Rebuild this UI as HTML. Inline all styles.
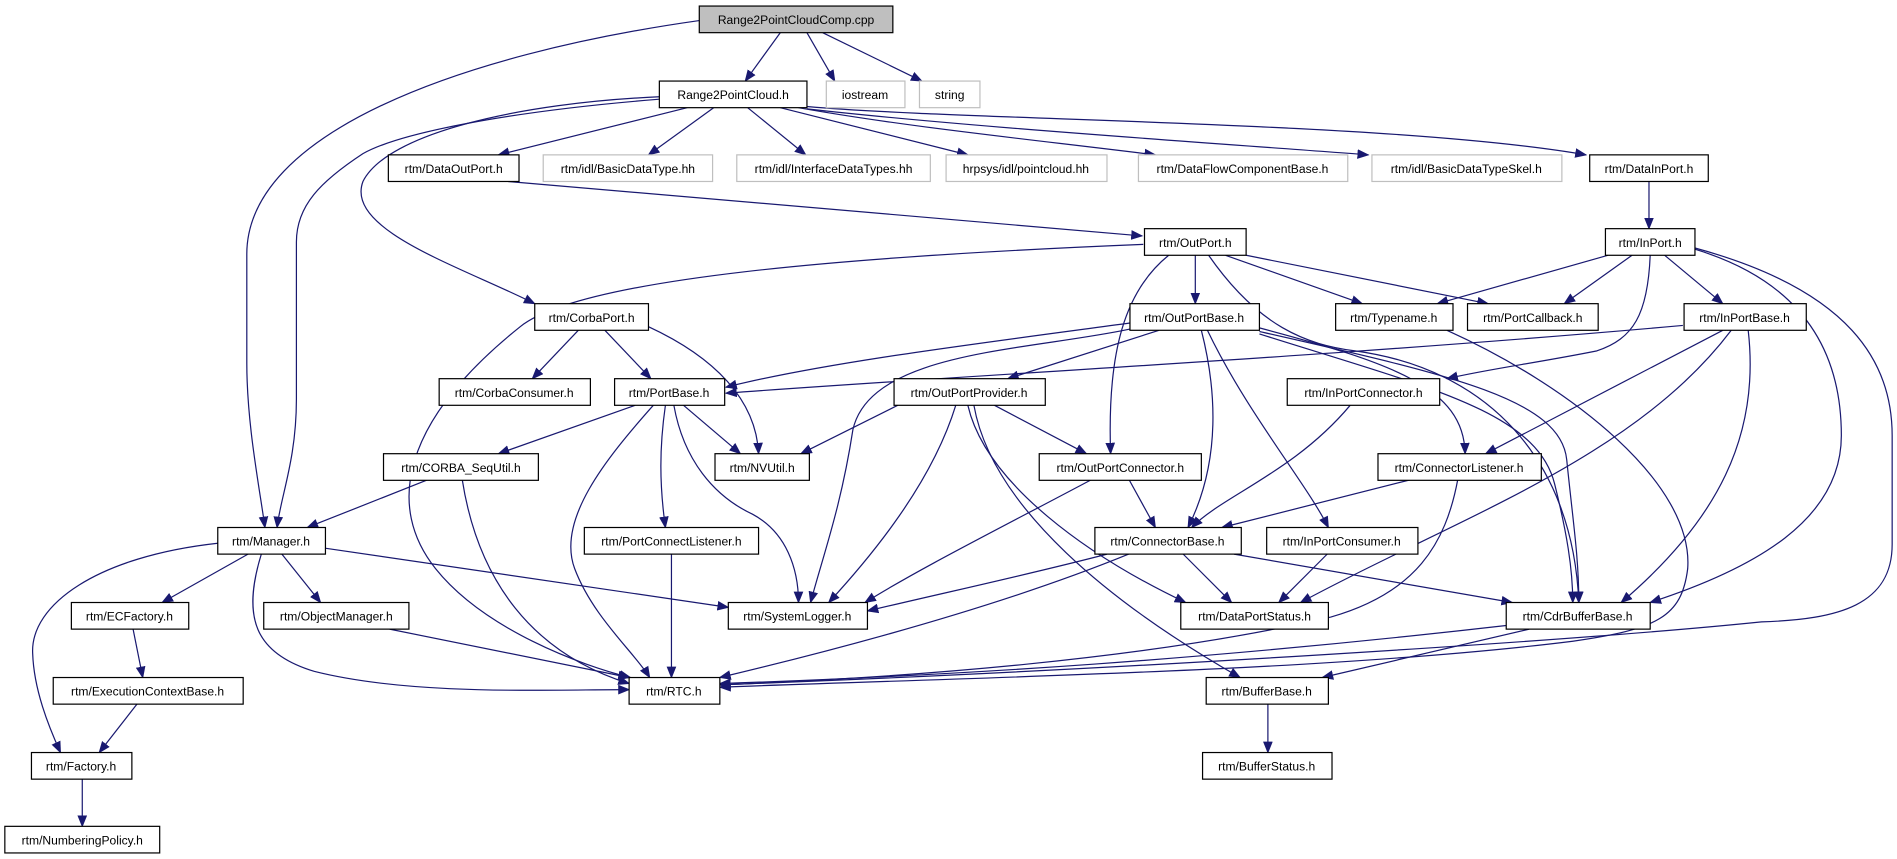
<!DOCTYPE html>
<html><head><meta charset="utf-8"><style>
html,body{margin:0;padding:0;background:#fff;}
svg{display:block;}
text{font-family:"Liberation Sans",Arial,sans-serif;font-size:10px;text-anchor:middle;}
</style></head><body>
<svg width="1897" height="859" viewBox="0 0 1568 710" preserveAspectRatio="none" xmlns="http://www.w3.org/2000/svg">
<defs>
<marker id="a" markerUnits="userSpaceOnUse" markerWidth="10" markerHeight="8" refX="9" refY="4" orient="auto">
<path d="M0,0 L10,4 L0,8 z" fill="#191970"/>
</marker>
</defs>
<g fill="none" stroke="#191970" stroke-width="1" marker-end="url(#a)">
<path d="M645,27 L616,67"/>
<path d="M667,27 L690,67"/>
<path d="M680,27 L762,67"/>
<path d="M578,17 C380,45 204,110 204,210 L204,300 C204,350 214,400 219,436"/>
<path d="M545,82 C420,92 330,110 300,127 C265,150 245,170 245,200 L245,330 C245,380 232,410 229,436"/>
<path d="M545,80 C430,85 320,110 300,150 C285,190 380,220 442,251"/>
<path d="M568,89 L412,128"/>
<path d="M590,89 L536,128"/>
<path d="M618,89 L666,128"/>
<path d="M645,89 L800,128"/>
<path d="M660,89 C750,105 850,115 955,128"/>
<path d="M667,90 C800,105 1000,118 1131,128"/>
<path d="M667,88 C800,100 1150,100 1311,128"/>
<path d="M420,150 L944,195"/>
<path d="M1363,150 L1363,189"/>
<path d="M988,211 L988,251"/>
<path d="M1013,211 L1126,251"/>
<path d="M1030,211 L1230,251"/>
<path d="M966,211 C930,240 915,290 918,375"/>
<path d="M999,211 C1040,270 1080,285 1120,290 C1230,305 1300,380 1305,498"/>
<path d="M945,202 C700,212 480,230 430,270 C330,350 320,420 360,470 C400,520 480,550 521,560"/>
<path d="M1329,211 L1188,251"/>
<path d="M1349,211 L1293,251"/>
<path d="M1376,211 L1424,251"/>
<path d="M1364,211 C1362,260 1350,280 1320,290 C1270,300 1230,305 1196,313"/>
<path d="M1401,206 C1480,230 1522,280 1522,360 C1522,430 1450,470 1364,498"/>
<path d="M1401,205 C1530,240 1564,300 1564,360 L1564,450 C1564,500 1520,512 1456,514 C1300,530 900,555 595,566"/>
<path d="M478,273 L440,313"/>
<path d="M500,273 L538,313"/>
<path d="M536,270 C590,295 625,330 627,375"/>
<path d="M934,267 C800,285 680,300 600,320"/>
<path d="M1391,269 C1100,295 800,310 600,325"/>
<path d="M934,272 C850,290 720,290 705,355 C695,420 680,460 670,498"/>
<path d="M958,273 L833,313"/>
<path d="M993,273 C1005,320 1010,380 982,436"/>
<path d="M998,273 C1030,340 1080,400 1098,436"/>
<path d="M1041,271 C1150,300 1210,320 1211,375"/>
<path d="M1041,274 C1200,310 1290,330 1295,380 C1300,430 1305,460 1305,498"/>
<path d="M1041,276 C1180,320 1270,340 1285,400 C1295,440 1300,470 1300,498"/>
<path d="M1196,273 C1300,320 1400,400 1395,470 C1390,510 1370,520 1300,530 C1100,555 800,560 595,568"/>
<path d="M1424,273 L1228,375"/>
<path d="M1431,273 C1350,380 1200,430 1075,498"/>
<path d="M1445,273 C1455,360 1420,430 1340,498"/>
<path d="M525,335 L412,375"/>
<path d="M565,335 L612,375"/>
<path d="M550,335 C545,370 545,400 550,436"/>
<path d="M557,335 C565,380 590,410 622,425 C650,440 660,470 660,498"/>
<path d="M540,335 C500,380 460,430 475,470 C490,510 525,540 537,560"/>
<path d="M742,335 L662,375"/>
<path d="M822,335 L898,375"/>
<path d="M790,335 C770,400 720,460 685,498"/>
<path d="M800,335 C815,400 900,460 980,498"/>
<path d="M805,335 C820,420 920,500 1025,560"/>
<path d="M1116,335 C1070,390 1010,410 985,436"/>
<path d="M355,396 L254,436"/>
<path d="M382,396 C395,480 440,540 520,565"/>
<path d="M933,396 L955,436"/>
<path d="M903,396 C820,440 760,470 715,498"/>
<path d="M1168,396 L1010,436"/>
<path d="M1205,396 C1195,450 1170,490 1100,510 C950,545 750,560 595,566"/>
<path d="M915,458 C850,475 780,490 717,505"/>
<path d="M933,458 C830,500 700,535 595,560"/>
<path d="M978,458 L1018,498"/>
<path d="M1020,458 L1250,498"/>
<path d="M1097,458 L1057,498"/>
<path d="M205,458 L134,498"/>
<path d="M233,458 L265,498"/>
<path d="M268,453 L602,502"/>
<path d="M216,458 C200,510 210,540 260,555 C340,575 450,570 520,570"/>
<path d="M180,449 C80,460 25,500 27,540 C28,570 40,600 50,622"/>
<path d="M110,520 L118,560"/>
<path d="M114,581 L82,622"/>
<path d="M68,643 L68,683"/>
<path d="M322,520 L520,560"/>
<path d="M555,458 L555,560"/>
<path d="M1245,517 C1000,545 800,558 595,565"/>
<path d="M1264,520 L1093,560"/>
<path d="M1048,581 L1048,622"/>
</g>
<g stroke-width="1">
<rect x="578" y="5" width="160" height="22" fill="#bfbfbf" stroke="#000"/><text x="658" y="20">Range2PointCloudComp.cpp</text>
<rect x="545" y="67" width="122" height="22" fill="#fff" stroke="#000"/><text x="606" y="82">Range2PointCloud.h</text>
<rect x="683" y="67" width="65" height="22" fill="#fff" stroke="#bfbfbf"/><text x="715" y="82">iostream</text>
<rect x="760" y="67" width="50" height="22" fill="#fff" stroke="#bfbfbf"/><text x="785" y="82">string</text>

<rect x="321" y="128" width="108" height="22" fill="#fff" stroke="#000"/><text x="375" y="143">rtm/DataOutPort.h</text>
<rect x="449" y="128" width="140" height="22" fill="#fff" stroke="#bfbfbf"/><text x="519" y="143">rtm/idl/BasicDataType.hh</text>
<rect x="609" y="128" width="160" height="22" fill="#fff" stroke="#bfbfbf"/><text x="689" y="143">rtm/idl/InterfaceDataTypes.hh</text>
<rect x="782" y="128" width="133" height="22" fill="#fff" stroke="#bfbfbf"/><text x="848" y="143">hrpsys/idl/pointcloud.hh</text>
<rect x="941" y="128" width="173" height="22" fill="#fff" stroke="#bfbfbf"/><text x="1027" y="143">rtm/DataFlowComponentBase.h</text>
<rect x="1134" y="128" width="157" height="22" fill="#fff" stroke="#bfbfbf"/><text x="1212" y="143">rtm/idl/BasicDataTypeSkel.h</text>
<rect x="1314" y="128" width="98" height="22" fill="#fff" stroke="#000"/><text x="1363" y="143">rtm/DataInPort.h</text>

<rect x="946" y="189" width="84" height="22" fill="#fff" stroke="#000"/><text x="988" y="204">rtm/OutPort.h</text>
<rect x="1327" y="189" width="74" height="22" fill="#fff" stroke="#000"/><text x="1364" y="204">rtm/InPort.h</text>

<rect x="442" y="251" width="94" height="22" fill="#fff" stroke="#000"/><text x="489" y="266">rtm/CorbaPort.h</text>
<rect x="934" y="251" width="107" height="22" fill="#fff" stroke="#000"/><text x="987" y="266">rtm/OutPortBase.h</text>
<rect x="1104" y="251" width="97" height="22" fill="#fff" stroke="#000"/><text x="1152" y="266">rtm/Typename.h</text>
<rect x="1213" y="251" width="108" height="22" fill="#fff" stroke="#000"/><text x="1267" y="266">rtm/PortCallback.h</text>
<rect x="1392" y="251" width="101" height="22" fill="#fff" stroke="#000"/><text x="1442" y="266">rtm/InPortBase.h</text>

<rect x="363" y="313" width="125" height="22" fill="#fff" stroke="#000"/><text x="425" y="328">rtm/CorbaConsumer.h</text>
<rect x="508" y="313" width="91" height="22" fill="#fff" stroke="#000"/><text x="553" y="328">rtm/PortBase.h</text>
<rect x="739" y="313" width="125" height="22" fill="#fff" stroke="#000"/><text x="801" y="328">rtm/OutPortProvider.h</text>
<rect x="1064" y="313" width="126" height="22" fill="#fff" stroke="#000"/><text x="1127" y="328">rtm/InPortConnector.h</text>

<rect x="317" y="375" width="128" height="22" fill="#fff" stroke="#000"/><text x="381" y="390">rtm/CORBA_SeqUtil.h</text>
<rect x="591" y="375" width="78" height="22" fill="#fff" stroke="#000"/><text x="630" y="390">rtm/NVUtil.h</text>
<rect x="859" y="375" width="134" height="22" fill="#fff" stroke="#000"/><text x="926" y="390">rtm/OutPortConnector.h</text>
<rect x="1139" y="375" width="135" height="22" fill="#fff" stroke="#000"/><text x="1206" y="390">rtm/ConnectorListener.h</text>

<rect x="180" y="436" width="89" height="22" fill="#fff" stroke="#000"/><text x="224" y="451">rtm/Manager.h</text>
<rect x="483" y="436" width="144" height="22" fill="#fff" stroke="#000"/><text x="555" y="451">rtm/PortConnectListener.h</text>
<rect x="905" y="436" width="121" height="22" fill="#fff" stroke="#000"/><text x="965" y="451">rtm/ConnectorBase.h</text>
<rect x="1047" y="436" width="125" height="22" fill="#fff" stroke="#000"/><text x="1109" y="451">rtm/InPortConsumer.h</text>

<rect x="59" y="498" width="97" height="22" fill="#fff" stroke="#000"/><text x="107" y="513">rtm/ECFactory.h</text>
<rect x="218" y="498" width="120" height="22" fill="#fff" stroke="#000"/><text x="278" y="513">rtm/ObjectManager.h</text>
<rect x="602" y="498" width="115" height="22" fill="#fff" stroke="#000"/><text x="659" y="513">rtm/SystemLogger.h</text>
<rect x="976" y="498" width="122" height="22" fill="#fff" stroke="#000"/><text x="1037" y="513">rtm/DataPortStatus.h</text>
<rect x="1245" y="498" width="119" height="22" fill="#fff" stroke="#000"/><text x="1304" y="513">rtm/CdrBufferBase.h</text>

<rect x="44" y="560" width="157" height="22" fill="#fff" stroke="#000"/><text x="122" y="575">rtm/ExecutionContextBase.h</text>
<rect x="520" y="560" width="75" height="22" fill="#fff" stroke="#000"/><text x="557" y="575">rtm/RTC.h</text>
<rect x="997" y="560" width="101" height="22" fill="#fff" stroke="#000"/><text x="1047" y="575">rtm/BufferBase.h</text>

<rect x="26" y="622" width="83" height="22" fill="#fff" stroke="#000"/><text x="67" y="637">rtm/Factory.h</text>
<rect x="994" y="622" width="107" height="22" fill="#fff" stroke="#000"/><text x="1047" y="637">rtm/BufferStatus.h</text>

<rect x="4" y="683" width="128" height="22" fill="#fff" stroke="#000"/><text x="68" y="698">rtm/NumberingPolicy.h</text>
</g>
</svg>
</body></html>
